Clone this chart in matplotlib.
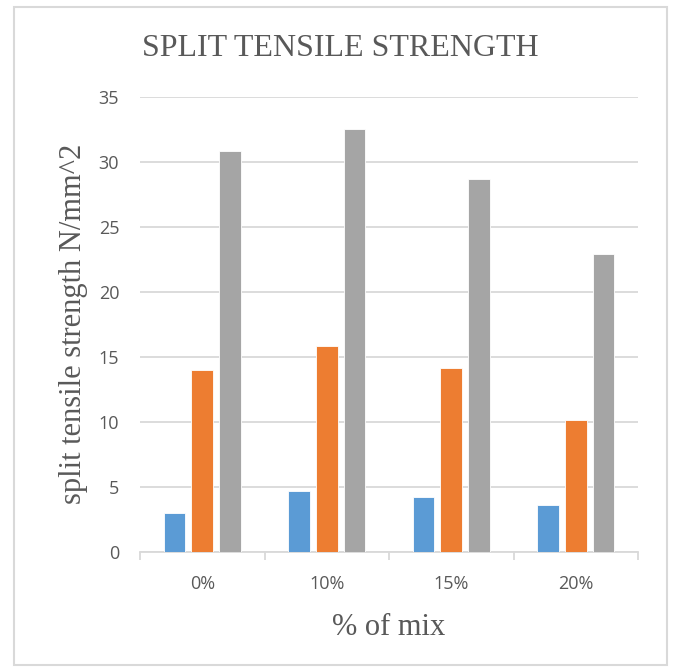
import matplotlib
matplotlib.use("Agg")
import matplotlib.pyplot as plt
import numpy as np
from matplotlib.patches import Rectangle

# split tensile strength for each mix percentage (three series per group)
mix = ["0%", "10%", "15%", "20%"]
series_1 = [3.0, 4.7, 4.2, 3.6]
series_2 = [14.0, 15.8, 14.1, 10.1]
series_3 = [30.8, 32.5, 28.7, 22.9]

colors = ["#5B9BD5", "#ED7D31", "#A5A5A5"]
grid_col = "#D9D9D9"
text_col = "#595959"

fig = plt.figure(figsize=(6.74, 6.72), dpi=100)
ax = fig.add_axes([140 / 674, 1 - 551.7 / 672, 498 / 674, 455 / 672])

x = np.arange(len(mix))
width = 0.173
step = 0.223
for i, vals in enumerate([series_1, series_2, series_3]):
    ax.bar(x + (i - 1) * step, vals, width, color=colors[i],
           edgecolor="white", linewidth=0.6, zorder=3)

ax.set_xlim(-0.5, len(mix) - 0.5)
ax.set_ylim(0, 35)
ax.set_yticks(range(0, 36, 5))
ax.set_xticks(x)
ax.set_xticklabels(mix)
ax.set_xticks(np.arange(-0.5, len(mix), 1), minor=True)

ax.yaxis.grid(True, color=grid_col, linewidth=1.3, zorder=0)
ax.set_axisbelow(True)
for side in ["left", "right", "top"]:
    ax.spines[side].set_visible(False)
ax.spines["bottom"].set_color(grid_col)
ax.spines["bottom"].set_linewidth(1.3)

ax.tick_params(axis="y", length=0, pad=15, labelcolor=text_col)
ax.tick_params(axis="x", which="major", length=0, pad=17, labelcolor=text_col)
ax.tick_params(axis="x", which="minor", length=6, width=1.3, color=grid_col)
for lab in ax.get_xticklabels() + ax.get_yticklabels():
    lab.set_fontfamily("Open Sans")
    lab.set_fontsize(13)

serif = "Liberation Serif"
fig.text(0.5 * (143 + 538) / 674, 1 - 49 / 672, "SPLIT TENSILE STRENGTH",
         ha="center", va="center", fontsize=23, family=serif, color=text_col)
ax.set_xlabel("% of mix", fontsize=22, family=serif, color=text_col, labelpad=14)
ax.set_ylabel("split tensile strength N/mm^2", fontsize=22, family=serif,
              color=text_col, labelpad=8)

# light frame around the whole chart area
fig.patches.append(Rectangle((14 / 674, 1 - 665 / 672), 653 / 674, 658 / 672,
                             transform=fig.transFigure, fill=False,
                             edgecolor=grid_col, linewidth=1.5))

fig.savefig("out.png", dpi=100)
